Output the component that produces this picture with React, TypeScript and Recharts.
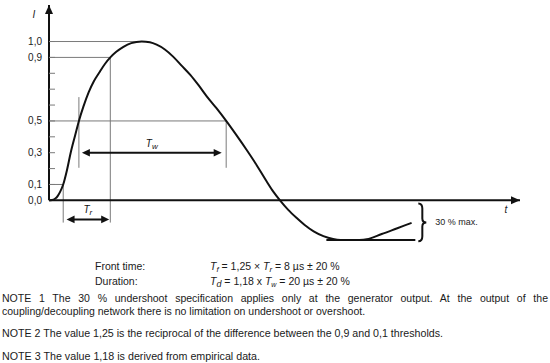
import React from 'react';
import { LineChart, Line, XAxis, YAxis, ReferenceLine, ReferenceDot } from 'recharts';

// Combination-wave current waveform (normalised current vs. time, µs)
const times = [
  0, 0.4, 0.8, 1.2, 1.5, 1.9, 2.4, 2.9, 3.5, 4.0, 4.6, 5.3, 6.0, 6.8, 7.5, 8.2, 9.0, 9.9, 11.0, 12.4,
  13.5, 14.4, 15.5, 16.6, 17.7, 18.9, 20.0, 21.1, 22.4, 23.7, 25.0, 26.4, 27.8, 29.1, 30.0, 30.9,
  32.0, 33.1, 34.2, 35.4, 36.7, 38.0, 39.0, 40.3, 41.5, 42.5, 44.5, 46.5, 48.5,
];
const current = [
  0, 0.002, 0.01, 0.03, 0.055, 0.1, 0.19, 0.3, 0.41, 0.5, 0.59, 0.68, 0.75, 0.81, 0.86, 0.9, 0.935, 0.965, 0.99, 1.0,
  0.995, 0.98, 0.95, 0.905, 0.85, 0.79, 0.725, 0.655, 0.58, 0.5, 0.415, 0.32, 0.22, 0.12, 0.055, 0,
  -0.06, -0.11, -0.155, -0.195, -0.225, -0.243, -0.249, -0.25, -0.249, -0.245, -0.212, -0.177, -0.142,
];

// Threshold levels and the times at which the curve crosses them
const levelPeak = 1.0;
const level90 = 0.9;
const level50 = 0.5;
const level10 = 0.1;
const tLevel10 = 1.9;
const tLevel50Rise = 4.0;
const tLevel90 = 8.2;
const tPeak = 12.4;
const tLevel50Fall = 23.7;
const undershoot = -0.25;

const yLabelTicks = [0, 0.1, 0.3, 0.5, 0.9, 1.0];
const yTickMarks = [0.1, 0.2, 0.3, 0.4, 0.5, 0.6, 0.7, 0.8, 0.9, 1.0];

const tMax = 63;
const yMin = -0.3;
const yMax = 1.23;

const data = times.map((t, k) => ({ t, i: current[k] }));

const FONT = '"Liberation Sans", Arial, Helvetica, sans-serif';
const GREY = '#7a7a7a';
const INK = '#111';

const fmt = (v: number) => v.toFixed(1).replace('.', ',');

function head(tx: number, ty: number, dx: number, dy: number, len: number, half: number, key: string) {
  const n = Math.hypot(dx, dy) || 1;
  const ux = dx / n;
  const uy = dy / n;
  const bx = tx - ux * len;
  const by = ty - uy * len;
  const px = -uy * half;
  const py = ux * half;
  return <polygon key={key} points={`${tx},${ty} ${bx + px},${by + py} ${bx - px},${by - py}`} fill={INK} />;
}

// Axis with a solid arrowhead at its far end
const AxisArrow = (props: any) => {
  const x1 = Number(props.x1), y1 = Number(props.y1), x2 = Number(props.x2), y2 = Number(props.y2);
  return (
    <g>
      <line x1={x1} y1={y1} x2={x2} y2={y2} stroke={INK} strokeWidth={2} />
      {head(x2, y2, x2 - x1, y2 - y1, 9, 4, 'h')}
    </g>
  );
};

// Dimension arrow with heads on both ends and an italic T-label above
const dimension = (sub: string, lift: number) => (props: any) => {
  const x1 = Number(props.x1), y1 = Number(props.y1), x2 = Number(props.x2), y2 = Number(props.y2);
  const mx = (x1 + x2) / 2;
  return (
    <g>
      <line x1={x1 + 4} y1={y1} x2={x2 - 4} y2={y2} stroke={INK} strokeWidth={2} />
      {head(x1, y1, -1, 0, 8, 3.8, 'a')}
      {head(x2, y2, 1, 0, 8, 3.8, 'b')}
      <text x={mx} y={y1 - lift} textAnchor="middle" fontFamily={FONT} fontSize={10} fill={INK}>
        <tspan fontStyle="italic">T</tspan>
        <tspan fontStyle="italic" fontSize={8} dy={2}>{sub}</tspan>
      </text>
    </g>
  );
};

// Curly brace spanning the undershoot, with its annotation
const Brace = (props: any) => {
  const x = Number(props.x1), ya = Number(props.y1), yb = Number(props.y2);
  const mid = (ya + yb) / 2;
  const d = `M ${x} ${ya} Q ${x + 4} ${ya} ${x + 4} ${ya + 5} L ${x + 4} ${mid - 4} Q ${x + 4} ${mid} ${x + 8} ${mid} Q ${x + 4} ${mid} ${x + 4} ${mid + 4} L ${x + 4} ${yb - 5} Q ${x + 4} ${yb} ${x} ${yb}`;
  return (
    <g>
      <path d={d} fill="none" stroke={INK} strokeWidth={2} />
      <text x={x + 17} y={mid + 3} fontFamily={FONT} fontSize={9} fill="#222">30 % max.</text>
    </g>
  );
};

const TickMark = (props: any) => (
  <line x1={props.cx} y1={props.cy} x2={props.cx + 6} y2={props.cy} stroke={GREY} strokeWidth={1} />
);

const AxisName = (label: string, dx: number, dy: number) => (props: any) => (
  <text x={props.cx + dx} y={props.cy + dy} textAnchor="middle" fontFamily={FONT} fontStyle="italic" fontSize={10} fill="#222">
    {label}
  </text>
);

const thin = { stroke: GREY, strokeWidth: 1, ifOverflow: 'visible' as const };

export default function App() {
  return (
    <div style={{ position: 'absolute', left: 0, top: 0, width: 550, height: 363, background: '#fff' }}>
      <LineChart width={550} height={255} data={data} margin={{ top: 5, right: 30, bottom: 7, left: 0 }}>
        <XAxis type="number" dataKey="t" domain={[0, tMax]} hide allowDataOverflow />
        <YAxis
          type="number"
          domain={[yMin, yMax]}
          ticks={yLabelTicks}
          interval={0}
          tickFormatter={fmt}
          axisLine={false}
          tickLine={false}
          tickSize={0}
          tickMargin={7}
          width={49}
          allowDataOverflow
          tick={{ fontSize: 10, fill: '#222', fontFamily: FONT }}
        />

        {/* threshold guides */}
        <ReferenceLine segment={[{ x: 0, y: levelPeak }, { x: tPeak, y: levelPeak }]} {...thin} />
        <ReferenceLine segment={[{ x: 0, y: level90 }, { x: tLevel90, y: level90 }]} {...thin} />
        <ReferenceLine segment={[{ x: 0, y: level50 }, { x: tLevel50Fall, y: level50 }]} {...thin} />
        <ReferenceLine segment={[{ x: 0, y: level10 }, { x: tLevel10, y: level10 }]} {...thin} />
        <ReferenceLine segment={[{ x: tLevel10, y: level10 }, { x: tLevel10, y: -0.14 }]} {...thin} />
        <ReferenceLine segment={[{ x: tLevel90, y: level90 }, { x: tLevel90, y: -0.14 }]} {...thin} />
        <ReferenceLine segment={[{ x: tLevel50Rise, y: 0.65 }, { x: tLevel50Rise, y: 0.205 }]} {...thin} />
        <ReferenceLine segment={[{ x: tLevel50Fall, y: level50 }, { x: tLevel50Fall, y: 0.205 }]} {...thin} />

        {yTickMarks.map((v) => (
          <ReferenceDot key={v} x={0} y={v} shape={TickMark} ifOverflow="visible" />
        ))}

        {/* axes */}
        <ReferenceLine segment={[{ x: 0, y: 0 }, { x: 0, y: yMax }]} shape={AxisArrow} ifOverflow="visible" />
        <ReferenceLine segment={[{ x: 0, y: 0 }, { x: tMax, y: 0 }]} shape={AxisArrow} ifOverflow="visible" />
        <ReferenceDot x={0} y={yMax} shape={AxisName('I', -15, 13)} ifOverflow="visible" />
        <ReferenceDot x={tMax} y={0} shape={AxisName('t', -14, 13)} ifOverflow="visible" />

        {/* dimension arrows */}
        <ReferenceLine segment={[{ x: 4.4, y: 0.3 }, { x: 23.1, y: 0.3 }]} shape={dimension('w', 6)} ifOverflow="visible" />
        <ReferenceLine segment={[{ x: 2.35, y: -0.12 }, { x: 8.05, y: -0.12 }]} shape={dimension('r', 6)} ifOverflow="visible" />

        {/* undershoot limit */}
        <ReferenceLine segment={[{ x: 37.1, y: undershoot }, { x: 49.0, y: undershoot }]} stroke={INK} strokeWidth={2} ifOverflow="visible" />
        <ReferenceLine segment={[{ x: 49.4, y: -0.02 }, { x: 49.4, y: -0.258 }]} shape={Brace} ifOverflow="visible" />

        <Line dataKey="i" type="monotone" stroke={INK} strokeWidth={2} dot={false} isAnimationActive={false} />
      </LineChart>

      <svg width={550} height={363} style={{ position: 'absolute', left: 0, top: 0, pointerEvents: 'none' }}>
        <g fontFamily={FONT} fontSize={10.5} fill="#1a1a1a">
          <text x={95} y={270}>Front time:</text>
          <text x={95} y={284.5}>Duration:</text>
          <text x={210} y={270}>
            <tspan fontStyle="italic">T</tspan>
            <tspan fontStyle="italic" fontSize={8} dy={2}>f</tspan>
            <tspan dy={-2}> = 1,25 × </tspan>
            <tspan fontStyle="italic">T</tspan>
            <tspan fontStyle="italic" fontSize={8} dy={2}>r</tspan>
            <tspan dy={-2}> = 8 µs ± 20 %</tspan>
          </text>
          <text x={210} y={284.5}>
            <tspan fontStyle="italic">T</tspan>
            <tspan fontStyle="italic" fontSize={9} dy={2}>d</tspan>
            <tspan dy={-2}> = 1,18 x </tspan>
            <tspan fontStyle="italic">T</tspan>
            <tspan fontStyle="italic" fontSize={7} dy={2}>w</tspan>
            <tspan dy={-2}> = 20 µs ± 20 %</tspan>
          </text>
          <text x={2} y={302} wordSpacing={4.8} textLength={546} lengthAdjust="spacingAndGlyphs">
            NOTE 1 The 30 % undershoot specification applies only at the generator output. At the output of the
          </text>
          <text x={2} y={315}>coupling/decoupling network there is no limitation on undershoot or overshoot.</text>
          <text x={2} y={337} textLength={441} lengthAdjust="spacingAndGlyphs">
            NOTE 2 The value 1,25 is the reciprocal of the difference between the 0,9 and 0,1 thresholds.
          </text>
          <text x={2} y={360} textLength={258} lengthAdjust="spacingAndGlyphs">
            NOTE 3 The value 1,18 is derived from empirical data.
          </text>
        </g>
      </svg>
    </div>
  );
}
